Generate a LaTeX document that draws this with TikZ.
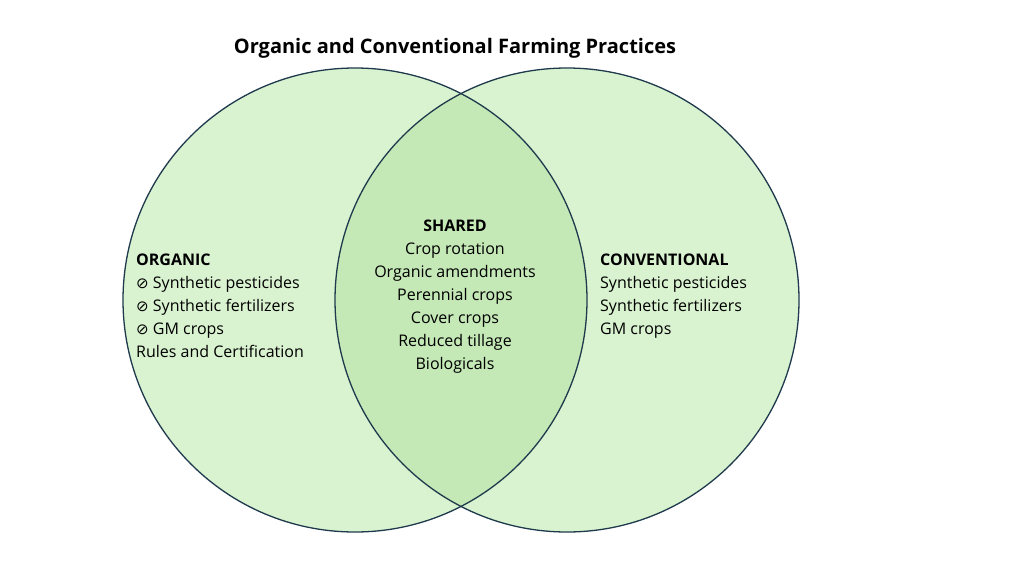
\documentclass[tikz,border=0pt]{standalone}
\usepackage{fontspec}
\setmainfont{Open Sans}
\newfontfamily\symf{DejaVu Sans}
\definecolor{cfill}{HTML}{D9F2D0}
\definecolor{lfill}{HTML}{C4E8B6}
\definecolor{edge}{HTML}{1E3A4C}
\tikzset{lbl/.style={align=left,anchor=north west,font=\fontsize{16}{23}\selectfont,inner sep=0pt},
clbl/.style={align=center,anchor=north,font=\fontsize{16}{23}\selectfont,inner sep=0pt}}
\newcommand{\nope}{{\symf\fontsize{15}{23}\selectfont ⊘}}
\begin{document}
\begin{tikzpicture}[x=1pt,y=-1pt]
\useasboundingbox[fill=white] (0,0) rectangle (1024,576);
\fill[cfill] (355,300) circle (232);
\fill[cfill] (567,300) circle (232);
\begin{scope}
\clip (355,300) circle (232);
\fill[lfill] (567,300) circle (232);
\end{scope}
\draw[edge,line width=1.3pt] (355,300) circle (232);
\draw[edge,line width=1.3pt] (567,300) circle (232);
\node[font=\bfseries\fontsize{20}{24}\selectfont] (title) at (455,48) {Organic and Conventional Farming Practices};
\node[lbl] (org) at (136,254) {\textbf{ORGANIC}\\ \nope\ Synthetic pesticides\\ \nope\ Synthetic fertilizers\\ \nope\ GM crops\\ Rules and Certification};
\node[clbl] (sh) at (455,220) {\textbf{SHARED}\\ Crop rotation\\ Organic amendments\\ Perennial crops\\ Cover crops\\ Reduced tillage\\ Biologicals};
\node[lbl] (conv) at (600,254) {\textbf{CONVENTIONAL}\\ Synthetic pesticides\\ Synthetic fertilizers\\ GM crops};
\end{tikzpicture}
\end{document}
